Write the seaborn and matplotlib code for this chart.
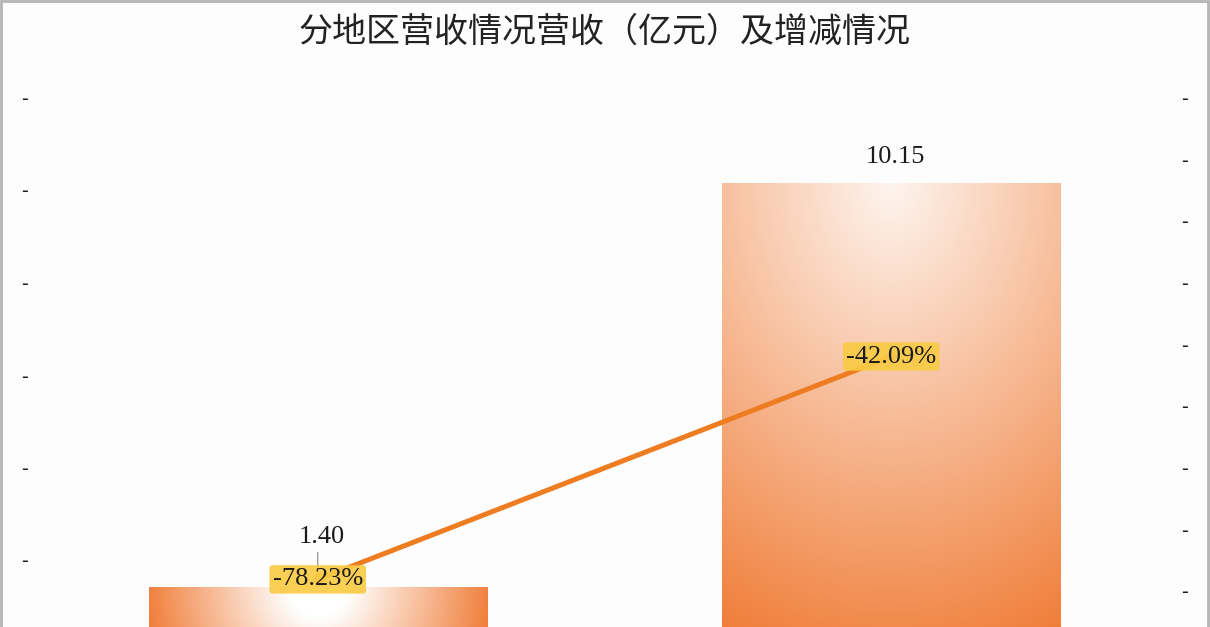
import numpy as np
import pandas as pd
import seaborn as sns
import matplotlib
matplotlib.use("Agg")
import matplotlib.pyplot as plt
from matplotlib.colors import to_rgb
from matplotlib.patches import Rectangle

# data
regions = ['地区一', '地区二']
revenue = [1.40, 10.15]          # 营收（亿元）
growth = [-78.23, -42.09]        # 增减（%）
revenue_labels = ['1.40', '10.15']
growth_labels = ['-78.23%', '-42.09%']

left_ticks = [2, 4, 6, 8, 10, 12]
right_ticks = [-80, -70, -60, -50, -40, -30, -20, -10, 0]

sns.set_theme(style="white")
plt.rcParams['font.family'] = ['Noto Sans CJK SC', 'DejaVu Sans']

W, H = 1210, 627
fig = plt.figure(figsize=(W / 100, H / 100), dpi=100)
fig.patch.set_facecolor('#fdfdfd')

# plot area runs below the bottom edge of the picture (cropped chart)
ax = fig.add_axes([31 / W, 1 - 652 / H, 1147 / W, 555 / H])
ax.set_facecolor('none')

df = pd.DataFrame({'region': regions, 'revenue': revenue, 'growth': growth})
sns.barplot(data=df, x='region', y='revenue', ax=ax, width=0.59,
            color='#f07d38', saturation=1, zorder=2)
ax.set_xlim(-0.5, 1.5)
ax.set_ylim(0, 12)

# radial white -> orange glow from the top centre of each bar
orange = np.array(to_rgb('#f07d38'))
white = np.array([1.0, 1.0, 1.0])
glow_start = [0.0, 0.08]
glow_core = [30, 0]
glow_reach = [175, 500]
glow_xweight = [1.0, 1.3]
sx = ax.transData.transform((1, 0))[0] - ax.transData.transform((0, 0))[0]
sy = ax.transData.transform((0, 1))[1] - ax.transData.transform((0, 0))[1]
for i, p in enumerate(ax.patches):
    x0, y0 = p.get_x(), p.get_y()
    w, h = p.get_width(), p.get_height()
    nx, ny = 300, 300
    xs = np.linspace(x0, x0 + w, nx)
    ys = np.linspace(y0, y0 + h, ny)
    X, Y = np.meshgrid(xs, ys)
    dx = (X - (x0 + w / 2)) * sx * glow_xweight[i]
    dy = ((y0 + h) - Y) * sy
    d = np.sqrt(dx ** 2 + dy ** 2)
    t = np.clip((d - glow_core[i]) / (glow_reach[i] - glow_core[i]), 0, 1)
    t = glow_start[i] + (1 - glow_start[i]) * t
    img = white * (1 - t[..., None]) + orange * t[..., None]
    im = ax.imshow(img, extent=(x0, x0 + w, y0, y0 + h), origin='lower',
                   aspect='auto', zorder=2, interpolation='bilinear')
    im.set_clip_path(p)
    p.set_facecolor('none')
    p.set_edgecolor('none')
ax.set_xlim(-0.5, 1.5)
ax.set_ylim(0, 12)

# revenue labels
label_offsets = [50, 26]
for i, (v, s) in enumerate(zip(revenue, revenue_labels)):
    ax.annotate(s, xy=(i, v), xytext=(4, label_offsets[i]), textcoords='offset pixels',
                ha='center', va='center', fontsize=19, family='Liberation Serif',
                color='#1a1a1a', zorder=5)
# small leader line for the lifted label
ax.annotate('', xy=(0, revenue[0]), xytext=(0, revenue[0] + 35 / sy),
            arrowprops=dict(arrowstyle='-', color='#8a8a8a', lw=0.8,
                            shrinkA=0, shrinkB=0), zorder=1)

# growth line on the secondary axis
ax2 = ax.twinx()
sns.lineplot(x=np.arange(len(regions)), y=growth, ax=ax2, color='#ee7d22',
             linewidth=3.6, marker='o', markersize=8, markerfacecolor='#f39a4e',
             markeredgecolor='#f39a4e', zorder=3)
ax2.set_ylim(-90, 0)
ax2.set_xlim(-0.5, 1.5)
for i, (v, s) in enumerate(zip(growth, growth_labels)):
    ax2.text(i, v, s, ha='center', va='center', fontsize=19,
             family='Liberation Serif', color='#1a1a1a', zorder=6,
             bbox=dict(boxstyle='round,pad=0.12', fc='#f9cb45', ec='none', alpha=0.92))

# axes: ticks shown only as "-" marks
ax.set_yticks(left_ticks)
ax.set_yticklabels(['-'] * len(left_ticks))
ax2.set_yticks(right_ticks)
ax2.set_yticklabels(['-'] * len(right_ticks))
ax.set_xticks([])
ax.set_xlabel('')
ax.set_ylabel('')
ax2.set_ylabel('')
for a in (ax, ax2):
    a.tick_params(axis='y', length=0, labelsize=14, labelcolor='#1a1a1a', pad=2)
    for sp in a.spines.values():
        sp.set_visible(False)
    a.grid(False)

fig.text(0.5, 1 - 32 / H, '分地区营收情况营收（亿元）及增减情况', ha='center',
         va='center', fontsize=24.5, color='#222222')

# thin grey frame around the chart
fig.patches.append(Rectangle((0.001, -0.01), 0.997, 1.008, transform=fig.transFigure,
                             fill=False, ec='#b5b5b5', lw=2))

fig.savefig('out.png', dpi=100, facecolor=fig.get_facecolor())
